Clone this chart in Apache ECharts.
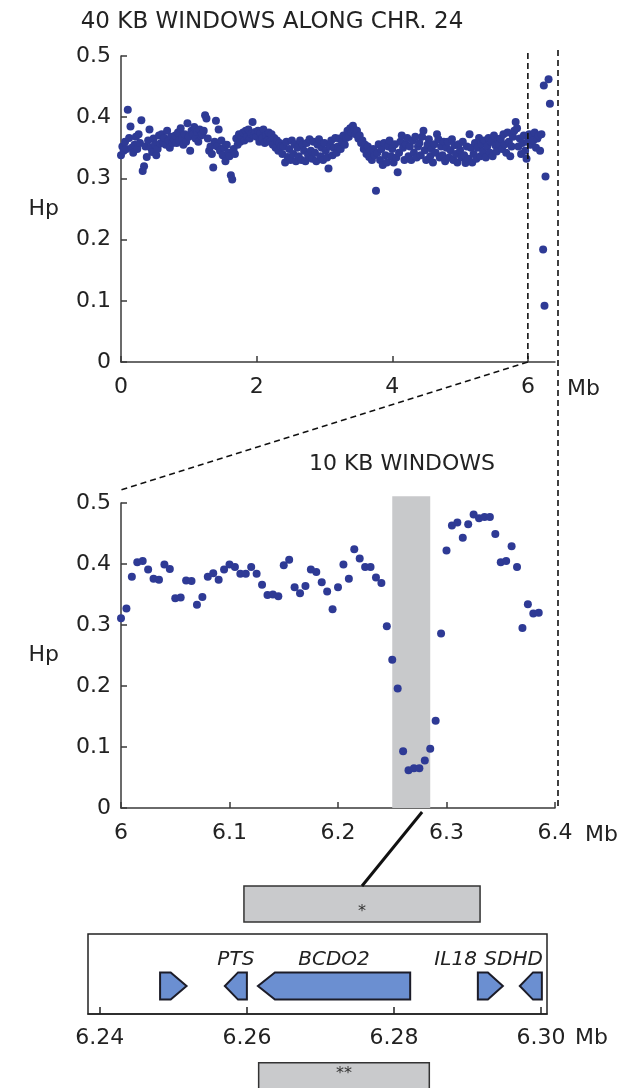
<!DOCTYPE html>
<html><head><meta charset="utf-8">
<script src="https://cdn.jsdelivr.net/npm/echarts@6/dist/echarts.min.js"></script>
<style>html,body{margin:0;padding:0;background:#fff}#c{width:638px;height:1088px}</style>
</head><body><div id="c"></div>
<script>
// ---------------- DATA ----------------
const topTitle = '40 KB WINDOWS ALONG CHR. 24';
const zoomTitle = '10 KB WINDOWS';
const axisUnit = 'Mb';
const yName = 'Hp';

// 40 kb windows along chromosome 24 (position in Mb)
const topPos = [
0.00,0.02,0.04,0.06,0.08,0.10,0.12,0.14,0.16,0.18,
0.20,0.22,0.24,0.26,0.28,0.30,0.32,0.34,0.36,0.38,
0.40,0.42,0.44,0.46,0.48,0.50,0.52,0.54,0.56,0.58,
0.60,0.62,0.64,0.66,0.68,0.70,0.72,0.74,0.76,0.78,
0.80,0.82,0.84,0.86,0.88,0.90,0.92,0.94,0.96,0.98,
1.00,1.02,1.04,1.06,1.08,1.10,1.12,1.14,1.16,1.18,
1.20,1.22,1.24,1.26,1.28,1.30,1.32,1.34,1.36,1.38,
1.40,1.42,1.44,1.46,1.48,1.50,1.52,1.54,1.56,1.58,
1.60,1.62,1.64,1.66,1.68,1.70,1.72,1.74,1.76,1.78,
1.80,1.82,1.84,1.86,1.88,1.90,1.92,1.94,1.96,1.98,
2.00,2.02,2.04,2.06,2.08,2.10,2.12,2.14,2.16,2.18,
2.20,2.22,2.24,2.26,2.28,2.30,2.32,2.34,2.36,2.38,
2.40,2.42,2.44,2.46,2.48,2.50,2.52,2.54,2.56,2.58,
2.60,2.62,2.64,2.66,2.68,2.70,2.72,2.74,2.76,2.78,
2.80,2.82,2.84,2.86,2.88,2.90,2.92,2.94,2.96,2.98,
3.00,3.02,3.04,3.06,3.08,3.10,3.12,3.14,3.16,3.18,
3.20,3.22,3.24,3.26,3.28,3.30,3.32,3.34,3.36,3.38,
3.40,3.42,3.44,3.46,3.48,3.50,3.52,3.54,3.56,3.58,
3.60,3.62,3.64,3.66,3.68,3.70,3.72,3.74,3.76,3.78,
3.80,3.82,3.84,3.86,3.88,3.90,3.92,3.94,3.96,3.98,
4.00,4.02,4.04,4.06,4.08,4.10,4.12,4.14,4.16,4.18,
4.20,4.22,4.24,4.26,4.28,4.30,4.32,4.34,4.36,4.38,
4.40,4.42,4.44,4.46,4.48,4.50,4.52,4.54,4.56,4.58,
4.60,4.62,4.64,4.66,4.68,4.70,4.72,4.74,4.76,4.78,
4.80,4.82,4.84,4.86,4.88,4.90,4.92,4.94,4.96,4.98,
5.00,5.02,5.04,5.06,5.08,5.10,5.12,5.14,5.16,5.18,
5.20,5.22,5.24,5.26,5.28,5.30,5.32,5.34,5.36,5.38,
5.40,5.42,5.44,5.46,5.48,5.50,5.52,5.54,5.56,5.58,
5.60,5.62,5.64,5.66,5.68,5.70,5.72,5.74,5.76,5.78,
5.80,5.82,5.84,5.86,5.88,5.90,5.92,5.94,5.96,5.98,
6.00,6.02,6.04,6.06,6.08,6.10,6.12,6.14,6.16,6.18,
6.20,6.225,6.235,6.245,6.26,6.305,6.325
];
const topHp = [
0.338,0.352,0.345,0.360,0.348,0.412,0.366,0.385,0.350,0.342,
0.355,0.368,0.348,0.372,0.358,0.395,0.312,0.320,0.352,0.335,
0.362,0.380,0.350,0.343,0.365,0.355,0.338,0.348,0.370,0.357,
0.372,0.360,0.366,0.355,0.378,0.362,0.350,0.368,0.358,0.363,
0.370,0.358,0.375,0.362,0.382,0.366,0.355,0.372,0.360,0.390,
0.368,0.345,0.378,0.372,0.384,0.365,0.376,0.360,0.380,0.370,
0.372,0.378,0.403,0.398,0.365,0.345,0.352,0.340,0.318,0.360,
0.394,0.352,0.380,0.345,0.362,0.338,0.350,0.328,0.355,0.342,
0.336,0.305,0.298,0.348,0.340,0.365,0.355,0.372,0.360,0.368,
0.375,0.362,0.378,0.368,0.380,0.365,0.372,0.392,0.370,0.376,
0.368,0.378,0.360,0.374,0.365,0.380,0.358,0.370,0.362,0.375,
0.360,0.372,0.355,0.366,0.350,0.362,0.345,0.358,0.352,0.340,
0.352,0.326,0.360,0.335,0.348,0.330,0.362,0.340,0.356,0.328,
0.350,0.336,0.362,0.330,0.355,0.345,0.328,0.358,0.338,0.364,
0.345,0.332,0.360,0.342,0.328,0.355,0.364,0.336,0.350,0.330,
0.358,0.345,0.334,0.316,0.352,0.362,0.338,0.350,0.366,0.342,
0.352,0.365,0.348,0.360,0.370,0.355,0.366,0.378,0.368,0.382,
0.375,0.386,0.380,0.372,0.378,0.365,0.370,0.358,0.362,0.348,
0.355,0.340,0.352,0.335,0.345,0.330,0.348,0.338,0.280,0.342,
0.356,0.330,0.348,0.322,0.358,0.338,0.326,0.352,0.362,0.336,
0.348,0.326,0.356,0.334,0.310,0.342,0.360,0.370,0.350,0.330,
0.356,0.366,0.336,0.352,0.330,0.362,0.342,0.368,0.334,0.352,
0.358,0.338,0.368,0.378,0.346,0.330,0.355,0.364,0.336,0.348,
0.326,0.356,0.342,0.372,0.364,0.334,0.352,0.338,0.360,0.328,
0.350,0.360,0.334,0.346,0.364,0.330,0.354,0.340,0.326,0.356,
0.346,0.334,0.360,0.338,0.325,0.352,0.332,0.372,0.350,0.326,
0.340,0.358,0.332,0.350,0.366,0.336,0.356,0.344,0.362,0.334,
0.352,0.366,0.342,0.360,0.336,0.370,0.354,0.344,0.364,0.356,
0.365,0.348,0.372,0.356,0.342,0.375,0.360,0.336,0.352,0.368,
0.378,0.392,0.382,0.352,0.365,0.340,0.358,0.370,0.345,0.332,
0.360,0.372,0.355,0.368,0.362,0.375,0.350,0.365,0.370,0.345,
0.372,0.184,0.452,0.092,0.303,0.462,0.422
];

// 10 kb windows, zoomed region (Mb)
const zoomPos = [
6.000,6.005,6.010,6.015,6.020,6.025,6.030,6.035,6.040,6.045,
6.050,6.055,6.060,6.065,6.070,6.075,6.080,6.085,6.090,6.095,
6.100,6.105,6.110,6.115,6.120,6.125,6.130,6.135,6.140,6.145,
6.150,6.155,6.160,6.165,6.170,6.175,6.180,6.185,6.190,6.195,
6.200,6.205,6.210,6.215,6.220,6.225,6.230,6.235,6.240,6.245,
6.250,6.255,6.260,6.265,6.270,6.275,6.280,6.285,6.290,6.295,
6.300,6.305,6.310,6.315,6.320,6.325,6.330,6.335,6.340,6.345,
6.350,6.355,6.360,6.365,6.370,6.375,6.380,6.385
];
const zoomHp = [
0.311,0.327,0.379,0.403,0.405,0.391,0.376,0.374,0.399,0.392,
0.344,0.345,0.373,0.372,0.333,0.346,0.379,0.385,0.374,0.391,
0.399,0.395,0.384,0.384,0.395,0.384,0.366,0.349,0.350,0.347,
0.398,0.407,0.362,0.352,0.364,0.391,0.387,0.370,0.355,0.326,
0.362,0.399,0.376,0.424,0.409,0.395,0.395,0.378,0.369,0.298,
0.243,0.196,0.093,0.062,0.065,0.065,0.078,0.097,0.143,0.286,
0.422,0.463,0.468,0.443,0.465,0.481,0.475,0.477,0.477,0.449,
0.403,0.405,0.429,0.395,0.295,0.334,0.319,0.320
];

// highlighted low-Hp band (Mb)
const bandStart = [6.25];
const bandEnd = [6.285];

// genes in the region (Mb), strand: 1 = forward, -1 = reverse
const geneNames  = ['', 'PTS', 'BCDO2', 'IL18', 'SDHD'];
const geneStart  = [6.2482, 6.2570, 6.2615, 6.2914, 6.2971];
const geneEnd    = [6.2518, 6.2600, 6.2822, 6.2948, 6.3001];
const geneStrand = [1, -1, -1, 1, -1];

// significance regions (Mb)
const regionLabels = ['*', '**'];
const regionStart  = [6.2596, 6.2616];
const regionEnd    = [6.2917, 6.2848];

// tick labels
const hpTicks   = [0, 0.1, 0.2, 0.3, 0.4, 0.5];
const geneTicks = [6.24, 6.26, 6.28, 6.30];

// ---------------- CHART ----------------
const FONT = 'DejaVu Sans';
const AX = '#3a3a3a';
const TXT = '#222';
const DOT = '#2e3a95';

const chart = echarts.init(document.getElementById('c'), null, {renderer: 'canvas'});

function hpAxis(idx) {
  return {
    gridIndex: idx, type: 'value', min: hpTicks[0], max: hpTicks[hpTicks.length - 1], interval: 0.1,
    axisLine: {show: true, lineStyle: {color: AX, width: 1.5}},
    axisTick: {show: true, inside: true, length: 6, lineStyle: {color: AX, width: 1.5}},
    axisLabel: {fontSize: 22, fontFamily: FONT, color: TXT, margin: 10,
      formatter: v => (v === 0 ? '0' : v.toFixed(1))},
    splitLine: {show: false},
    name: yName, nameLocation: 'middle', nameRotate: 0, nameGap: 62,
    nameTextStyle: {fontSize: 22, fontFamily: FONT, color: TXT}
  };
}
const mbName = (gap, pad) => ({
  name: axisUnit, nameLocation: 'end', nameGap: gap,
  nameTextStyle: {fontSize: 22, fontFamily: FONT, color: TXT, verticalAlign: 'top', padding: [pad, 0, 0, 0]}
});

const option = {
  animation: false,
  backgroundColor: '#fff',
  grid: [
    {left: 121, top: 56, width: 434, height: 306},
    {left: 121, top: 503, width: 434, height: 305},
    {left: 88, top: 934, width: 459, height: 80, show: true, borderColor: '#222', borderWidth: 1.5}
  ],
  xAxis: [
    Object.assign({
      gridIndex: 0, type: 'value', min: 0, max: 6.4, interval: 2,
      axisLine: {lineStyle: {color: AX, width: 1.5}},
      axisTick: {inside: true, length: 6, lineStyle: {color: AX, width: 1.5}},
      axisLabel: {fontSize: 22, fontFamily: FONT, color: TXT, margin: 14, showMaxLabel: false},
      splitLine: {show: false}
    }, mbName(12, 16)),
    Object.assign({
      gridIndex: 1, type: 'value', min: 6, max: 6.4, interval: 0.1,
      axisLine: {lineStyle: {color: AX, width: 1.5}},
      axisTick: {inside: true, length: 6, lineStyle: {color: AX, width: 1.5}},
      axisLabel: {fontSize: 22, fontFamily: FONT, color: TXT, margin: 14,
        formatter: v => String(+v.toFixed(1))},
      splitLine: {show: false}
    }, mbName(30, 16)),
    Object.assign({
      gridIndex: 2, type: 'value', min: 6.2384, max: 6.3008,
      axisLine: {lineStyle: {color: '#222', width: 1.5}},
      axisTick: {inside: true, length: 7, customValues: geneTicks, lineStyle: {color: '#222', width: 1.5}},
      axisLabel: {fontSize: 22, fontFamily: FONT, color: TXT, margin: 13, customValues: geneTicks,
        formatter: v => v.toFixed(2)},
      splitLine: {show: false}
    }, mbName(28, 13))
  ],
  yAxis: [
    hpAxis(0),
    hpAxis(1),
    {gridIndex: 2, type: 'value', min: 0, max: 1, show: false}
  ],
  series: [
    {
      type: 'scatter', xAxisIndex: 0, yAxisIndex: 0, z: 3,
      data: topPos.map((x, i) => [x, topHp[i]]),
      symbolSize: 8, itemStyle: {color: DOT, opacity: 1}
    },
    {
      type: 'custom', xAxisIndex: 1, yAxisIndex: 1, z: 1, silent: true,
      data: bandStart.map((s, i) => [s, bandEnd[i]]),
      renderItem: (params, api) => {
        const p0 = api.coord([api.value(0), 0]);
        const p1 = api.coord([api.value(1), 0.511]);
        return {type: 'rect', shape: {x: p0[0], y: p1[1], width: p1[0] - p0[0], height: p0[1] - p1[1]},
          style: {fill: '#c8c9cb'}};
      }
    },
    {
      type: 'scatter', xAxisIndex: 1, yAxisIndex: 1, z: 3,
      data: zoomPos.map((x, i) => [x, zoomHp[i]]),
      symbolSize: 8, itemStyle: {color: DOT, opacity: 1}
    },
    {
      type: 'custom', xAxisIndex: 2, yAxisIndex: 2, z: 4, silent: true, clip: false,
      data: geneStart.map((s, i) => [s, geneEnd[i], geneStrand[i]]),
      renderItem: (params, api) => {
        const i = params.dataIndex;
        const a = api.coord([api.value(0), 0.35]);
        const b = api.coord([api.value(1), 0.35]);
        const cy = a[1];
        const h = api.size([0, 0.34])[1];
        const x0 = a[0], x1 = b[0];
        const head = Math.min(17, (x1 - x0) * 0.6);
        const t = cy - h / 2, bt = cy + h / 2;
        const pts = api.value(2) > 0
          ? [[x0, t], [x1 - head, t], [x1, cy], [x1 - head, bt], [x0, bt]]
          : [[x1, t], [x0 + head, t], [x0, cy], [x0 + head, bt], [x1, bt]];
        const children = [{type: 'polygon', shape: {points: pts},
          style: {fill: '#6b8fd1', stroke: '#1c1c28', lineWidth: 2, lineJoin: 'miter'}}];
        const name = geneNames[i];
        if (name) {
          let lx = (x0 + x1) / 2, align = 'center';
          if (name === 'IL18') { lx = x0 - 1; align = 'right'; }
          if (name === 'SDHD') { lx = x1 + 1; align = 'right'; }
          const ly = api.coord([0, 0.675])[1];
          children.push({type: 'text', style: {text: name, x: lx, y: ly, align: align, verticalAlign: 'middle',
            font: 'italic 20px "DejaVu Sans"', fill: TXT}});
        }
        return {type: 'group', children: children};
      }
    },
    {
      type: 'custom', xAxisIndex: 2, yAxisIndex: 2, z: 4, silent: true, clip: false,
      data: regionStart.map((s, i) => [s, regionEnd[i]]),
      renderItem: (params, api) => {
        const i = params.dataIndex;
        const rows = [{top: 1.6, bottom: 1.15, text: 1.275}, {top: -0.61, bottom: -1.2, text: -0.75}];
        const r = rows[i];
        const p0 = api.coord([api.value(0), r.top]);
        const p1 = api.coord([api.value(1), r.bottom]);
        const ty = api.coord([0, r.text])[1];
        return {type: 'group', children: [
          {type: 'rect', shape: {x: p0[0], y: p0[1], width: p1[0] - p0[0], height: p1[1] - p0[1]},
            style: {fill: '#c9cacc', stroke: '#333', lineWidth: 1.5}},
          {type: 'text', style: {text: regionLabels[i], x: (p0[0] + p1[0]) / 2, y: ty, align: 'center',
            verticalAlign: 'middle', font: '16px "DejaVu Sans"', fill: '#333'}}
        ]};
      }
    }
  ]
};
chart.setOption(option);

// ---------- connectors and titles (positions from the axes) ----------
const topPx = v => chart.convertToPixel({xAxisIndex: 0, yAxisIndex: 0}, v);
const zoomPx = v => chart.convertToPixel({xAxisIndex: 1, yAxisIndex: 1}, v);
const genePx = v => chart.convertToPixel({xAxisIndex: 2, yAxisIndex: 2}, v);
const dash = {stroke: '#111', lineWidth: 1.6, lineDash: [6, 4]};
const zMin = zoomPos[0], zMax = 6.4;
const a1 = topPx([zMin, 0.505]), a2 = topPx([zMin, 0]);
const a3 = zoomPx([zMin, 0.52]);
const r1 = topPx([zMax, 0.51]), r2 = zoomPx([zMax, 0]);
const bandMid = (bandStart[0] + bandEnd[0]) / 2 + 0.01;
const c1 = zoomPx([bandMid, 0]);
const c2 = genePx([(regionStart[0] + regionEnd[0]) / 2, 1.6]);

chart.setOption({
  graphic: [
    {type: 'line', shape: {x1: a1[0], y1: a1[1], x2: a2[0], y2: a2[1]}, style: dash, z: 10},
    {type: 'line', shape: {x1: a2[0], y1: a2[1], x2: a3[0] - 3, y2: a3[1]}, style: dash, z: 10},
    {type: 'line', shape: {x1: r1[0] + 3, y1: r1[1], x2: r2[0] + 3, y2: r2[1]}, style: dash, z: 10},
    {type: 'line', shape: {x1: c1[0], y1: c1[1] + 4, x2: c2[0], y2: c2[1]}, style: {stroke: '#111', lineWidth: 3}, z: 10},
    {type: 'text', x: 272, y: 22.5, style: {text: topTitle, align: 'center', verticalAlign: 'middle',
      font: '23px "DejaVu Sans"', fill: TXT}, z: 10},
    {type: 'text', x: 402, y: 464, style: {text: zoomTitle, align: 'center', verticalAlign: 'middle',
      font: '22px "DejaVu Sans"', fill: TXT}, z: 10}
  ]
});
</script>
</body></html>
